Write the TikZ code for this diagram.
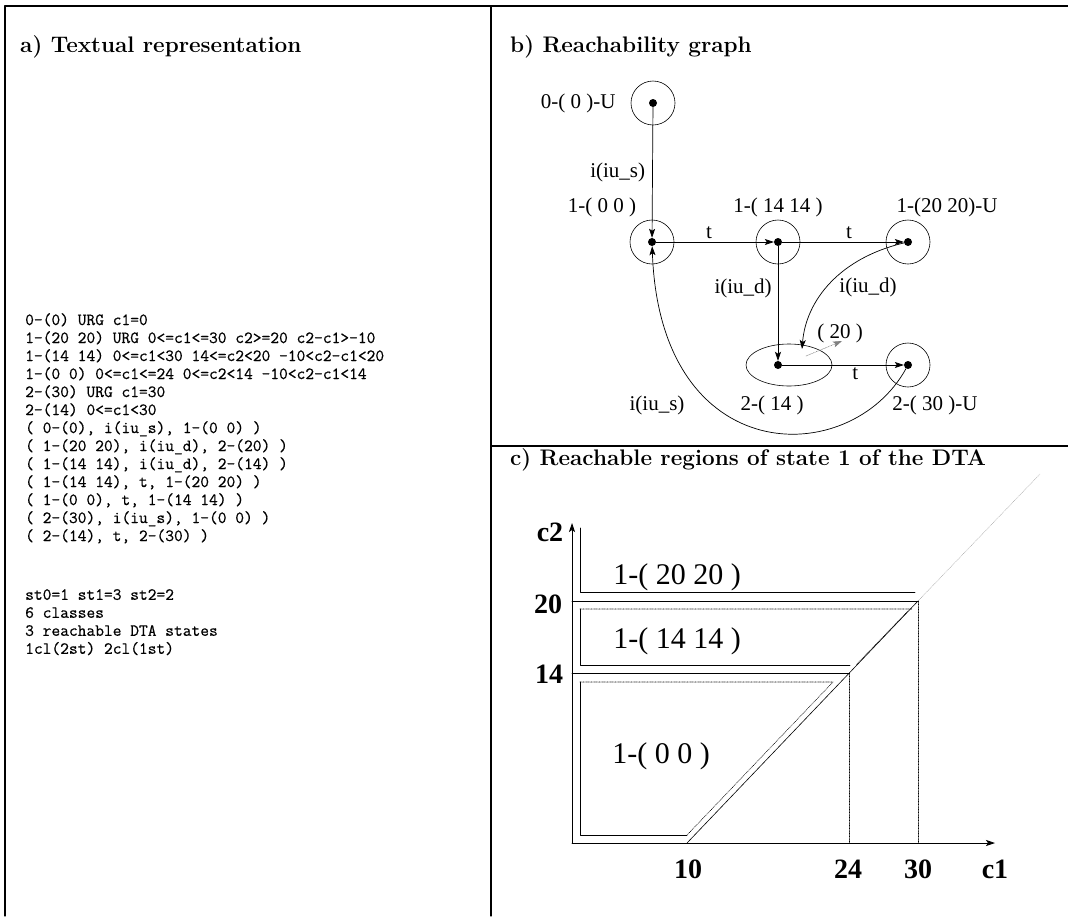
\documentclass[tikz,border=0pt]{standalone}
\usepackage{fontspec}
\newfontfamily\tmsfont{Liberation Serif}
\newfontfamily\listfont{Latin Modern Mono}[FakeBold=0.6]
\usetikzlibrary{arrows.meta,shapes.geometric,positioning}
\tikzset{
  every picture/.style={line join=round, line cap=round, >={Stealth[length=9pt,width=6pt,inset=2pt]}},
  frame/.style={line width=1.2pt},
  state/.style={circle, draw, line width=0.6pt, minimum size=44pt, inner sep=0pt},
  dot/.style={circle, fill, inner sep=0pt, minimum size=8pt},
  edge/.style={->, line width=0.7pt},
  glab/.style={font=\tmsfont\fontsize{21}{24}\selectfont, inner sep=1pt},
  rlab/.style={font=\tmsfont\fontsize{30}{34}\selectfont, inner sep=0pt},
  axlab/.style={font=\tmsfont\bfseries\fontsize{28}{32}\selectfont, inner sep=0pt},
  head/.style={font=\bfseries\fontsize{22.5}{26}\selectfont, anchor=base west, inner sep=0pt},
  mono/.style={font=\listfont\fontsize{17}{18}\selectfont, align=left, anchor=north west, inner sep=0pt},
  region/.style={line width=0.8pt},
  open/.style={densely dotted, line width=0.6pt},
}

\begin{document}
\begin{tikzpicture}[x=1pt,y=-1pt]
\useasboundingbox (0,0) rectangle (1068,916);
% frame
\draw[line width=2pt] (5,6) -- (1068,6);
\draw[frame] (5,6) -- (5,916) (491,6) -- (491,916) (491,446) -- (1068,446);
\node[head] (ha) at (20,52) {a) Textual representation};
\node[head] (hb) at (510,52) {b) Reachability graph};
\node[head] (hc) at (510,465) {c) Reachable regions of state 1 of the DTA};

% a) textual representation
\node[mono] (txt) at (25,313) {0-(0) URG c1=0\\
1-(20 20) URG 0<=c1<=30 c2>=20 c2-c1>-10\\
1-(14 14) 0<=c1<30 14<=c2<20 -10<c2-c1<20\\
1-(0 0) 0<=c1<=24 0<=c2<14 -10<c2-c1<14\\
2-(30) URG c1=30\\
2-(14) 0<=c1<30\\
( 0-(0), i(iu\_s), 1-(0 0) )\\
( 1-(20 20), i(iu\_d), 2-(20) )\\
( 1-(14 14), i(iu\_d), 2-(14) )\\
( 1-(14 14), t, 1-(20 20) )\\
( 1-(0 0), t, 1-(14 14) )\\
( 2-(30), i(iu\_s), 1-(0 0) )\\
( 2-(14), t, 2-(30) )};
\node[mono] (stats) at (25,589) {st0=1 st1=3 st2=2\\
6 classes\\
3 reachable DTA states\\
1cl(2st) 2cl(1st)};

% b) reachability graph
\node[state] (s0) at (653,103) {};
\node[state] (s1) at (652,242) {};
\node[state] (s2) at (778,242) {};
\node[state] (s3) at (908,242) {};
\node[ellipse, draw, line width=0.6pt, minimum width=86pt, minimum height=42pt, inner sep=0pt] (s4) at (789,365) {};
\node[state] (s5) at (908,365) {};
\node[dot] (d0) at (s0) {};
\node[dot] (d1) at (s1) {};
\node[dot] (d2) at (s2) {};
\node[dot] (d3) at (s3) {};
\node[dot] (d4) at (778,365) {};
\node[dot] (d5) at (s5) {};
\node[glab, left=14pt of s0] (l0) {0-( 0 )-U};
\node[glab] (l1) at (602,207) {1-( 0 0 )};
\node[glab] (l2) at (778,207) {1-( 14 14 )};
\node[glab] (l3) at (947,207) {1-(20 20)-U};
\node[glab] (l4) at (772,405) {2-( 14 )};
\node[glab] (l5) at (935,405) {2-( 30 )-U};
\node[glab] (l20) at (840,333) {( 20 )};
\node[glab] (lid) at (868,287) {i(iu\_d)};
\node[glab] (lis) at (657,405) {i(iu\_s)};
\coordinate (e4) at (802,349);
\coordinate (f20) at (806,356);
\coordinate (t20) at (842,341);
\draw[edge] (d0) -- (d1) node[glab, midway, left=6pt] {i(iu\_s)};
\draw[edge] (d1) -- (d2) node[glab, pos=0.45, above=2pt] {t};
\draw[edge] (d2) -- (d3) node[glab, pos=0.55, above=2pt] {t};
\draw[edge] (d2) -- (d4) node[glab, pos=0.37, left=5pt] {i(iu\_d)};
\draw[edge] (d4) -- (d5) node[glab, pos=0.6, below=1pt] {t};
\draw[edge] (d3) .. controls (840,258) and (806,300) .. (e4);
\draw[edge] (d5) .. controls (850,470) and (660,470) .. (d1);
\draw[->, open, gray] (f20) -- (t20);

% c) reachable regions
\coordinate (O) at (572,843);
\coordinate (X) at (995,843);
\coordinate (Y) at (572,523);
\draw[->, line width=0.8pt] (O) -- (X);
\draw[->, line width=0.8pt] (O) -- (Y);
\node[axlab] (c1) at (995,869) {c1};
\node[axlab] (c2) at (550,532) {c2};
\node[axlab] (x10) at (688,869) {10};
\node[axlab] (x24) at (848,869) {24};
\node[axlab] (x30) at (918,869) {30};
\node[axlab] (y20) at (548,604) {20};
\node[axlab] (y14) at (549,674) {14};
% guide lines
\draw[region] (572,601) -- (918,601);
\draw[region] (572,673) -- (849,673);
\draw[line width=0.6pt] (687,843) -- (918,601);
\draw[open, gray!60] (918,601) -- (1040,474);
\draw[open] (849,673) -- (849,843) (918,601) -- (918,843);
% region 1-(20 20)
\draw[region] (580,528) -- (580,592) -- (915,592);
\node[rlab] (r3) at (677,577) {1-( 20 20 )};
% region 1-(14 14)
\draw[region] (580,609) -- (580,665) -- (850,665);
\draw[open] (580,609) -- (912,609) (908,611) -- (856,665);
\node[rlab] (r2) at (677,641) {1-( 14 14 )};
% region 1-(0 0)
\draw[region] (580,682) -- (580,835) -- (687,835);
\draw[open] (580,682) -- (833,682) -- (687,835);
\node[rlab] (r1) at (661,756) {1-( 0 0 )};
\end{tikzpicture}
\end{document}
